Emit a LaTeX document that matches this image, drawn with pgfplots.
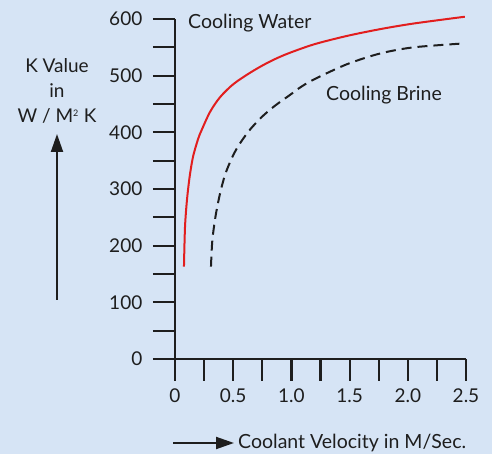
\documentclass[border=0pt]{standalone}
\usepackage{pgfplots}
\pgfplotsset{compat=1.18}
\usepackage{fontspec}
\setmainfont{Lato}
\usetikzlibrary{arrows.meta}
\definecolor{bg}{RGB}{214,228,245}
\definecolor{ink}{RGB}{30,30,30}
\definecolor{wred}{RGB}{226,30,30}
\begin{document}
\fontsize{19.5}{23}\selectfont
\begin{tikzpicture}[x=1pt,y=1pt]
\fill[bg] (0,0) rectangle (492,454);
\begin{axis}[
  at={(175pt,95pt)}, anchor=south west,
  scale only axis, width=291pt, height=340pt,
  xmin=0, xmax=2.5, ymin=0, ymax=600,
  axis lines=left, axis line style={-, line width=2.2pt, ink},
  clip=false,
  xtick={0,0.5,1,1.5,2,2.5}, xticklabels={0,0.5,1.0,1.5,2.0,2.5},
  minor xtick={0.25,0.75,1.25,1.75,2.25},
  ytick={0,100,200,300,400,500,600}, yticklabels={0,100,200,300,400,500,600},
  minor ytick={50,150,250,350,450,550},
  tick align=outside, major tick length=22pt, minor tick length=22pt,
  tick style={line width=2.2pt, ink},
  xticklabel style={font=\fontsize{19}{22}\selectfont, text=ink, anchor=north, yshift=-1.5pt},
  yticklabel style={font=\fontsize{19}{22}\selectfont, text=ink, anchor=east, xshift=-4pt},
]
\addplot[wred, line width=2pt, smooth, tension=0.5] coordinates {
(0.077,163) (0.086,233) (0.103,281) (0.126,322) (0.155,357) (0.198,388) (0.229,404)
(0.301,436) (0.387,462) (0.501,485) (0.644,505) (0.788,522) (0.945,537) (1.19,555)
(1.475,570) (1.76,582) (2.05,592) (2.49,604)};
\addplot[ink, line width=2pt, smooth, tension=0.5, dash pattern=on 10pt off 6pt] coordinates {
(0.309,163) (0.321,210) (0.350,254) (0.387,292) (0.430,325) (0.487,354) (0.544,376)
(0.637,403) (0.745,427) (0.859,447) (0.988,466) (1.074,479) (1.19,493) (1.475,520)
(1.76,539) (2.05,550) (2.49,557)};
\end{axis}
\node[anchor=west, text=ink, inner sep=0] at (188,431) {Cooling Water};
\node[anchor=west, text=ink, inner sep=0] at (326,359) {Cooling Brine};
\node[align=center, text=ink, inner sep=0, font=\fontsize{19}{25}\selectfont] at (57,363) {K Value\\in\\W / M\textsuperscript{\fontsize{9}{9}\selectfont 2} K};
\draw[ink, line width=2pt, -{Triangle[length=18pt,width=12pt]}] (57,154) -- (57,320);
\draw[ink, line width=2pt, -{Triangle[length=18pt,width=12pt]}] (173,11) -- (234,11);
\node[anchor=west, text=ink, inner sep=0] at (238,11) {Coolant Velocity in M/Sec.};
\end{tikzpicture}
\end{document}
